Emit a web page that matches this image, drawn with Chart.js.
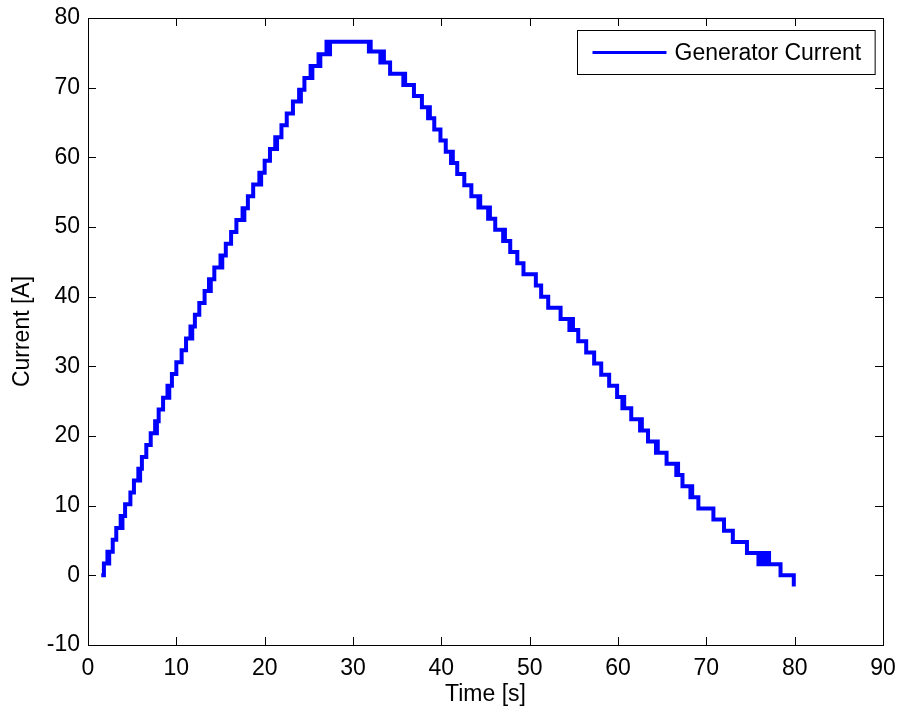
<!DOCTYPE html>
<html>
<head>
<meta charset="utf-8">
<script src="https://cdn.jsdelivr.net/npm/chart.js@4.4.0/dist/chart.umd.min.js"></script>
<style>
    html, body { margin: 0; padding: 0; background: #fff; }
</style>
</head>
<body>
<canvas id="myChart" width="898" height="713"></canvas>
<script>
// time stamps [s] where the generator current changes level
const timeS = [
    1.5, 1.8, 2.2, 2.3, 2.4, 2.8, 3.2, 3.7, 3.8, 3.9,
    4.2, 4.8, 5.2, 5.7, 5.8, 5.9, 6.1, 6.6, 7.1, 7.6,
    7.7, 7.8, 8.0, 8.5, 9.0, 9.1, 9.2, 9.5, 10.0, 10.6,
    11.1, 11.6, 11.7, 11.8, 12.1, 12.6, 13.2, 13.7, 13.8, 13.9,
    14.3, 15.0, 15.1, 15.2, 15.6, 16.2, 16.8, 17.5, 17.6, 17.7,
    18.1, 18.7, 19.4, 19.5, 19.6, 20.0, 20.6, 21.2, 21.3, 21.4,
    21.9, 22.5, 23.2, 23.9, 24.0, 24.1, 24.5, 25.2, 25.3, 25.4,
    26.1, 26.2, 26.3, 27.0, 27.1, 27.2, 27.3, 27.4,
    // top and way down
    31.8, 31.9, 32.0, 33.1, 33.2, 33.3, 33.4, 33.5, 34.2, 35.7,
    35.8, 35.9, 36.9, 37.8, 38.5, 38.6, 38.7, 39.2, 39.9, 40.5,
    41.1, 41.2, 41.3, 41.8, 42.6, 43.4, 44.2, 44.3, 44.4, 45.3,
    45.4, 45.5, 46.1, 47.0, 47.1, 47.2, 47.8, 48.6, 49.3, 50.7,
    51.3, 52.1, 53.5, 54.5, 54.6, 54.7, 54.8, 54.9, 55.5, 56.4,
    57.3, 58.1, 59.0, 59.9, 60.5, 60.6, 60.7, 61.5, 62.5, 62.6,
    62.7, 63.4, 64.3, 64.4, 64.5, 65.5, 66.6, 66.7, 66.8, 67.3,
    68.2, 68.3, 68.4, 69.1, 70.8, 72.0, 73.0, 74.6, 75.9, 76.1,
    76.3, 76.5, 76.7, 76.9, 77.1, 78.4, 79.9
];

// current level [A] starting at each time stamp
const currentA = [
    0, 1.7, 3.4, 1.7, 3.4, 5.1, 6.8, 8.5, 6.8, 8.5,
    10.2, 11.9, 13.6, 15.3, 13.6, 15.3, 17.0, 18.7, 20.4, 22.1,
    20.4, 22.1, 23.8, 25.5, 27.2, 25.5, 27.2, 28.9, 30.6, 32.3,
    34.0, 35.7, 34.0, 35.7, 37.4, 39.1, 40.8, 42.5, 40.8, 42.5,
    44.2, 45.9, 44.2, 45.9, 47.6, 49.3, 51.0, 52.7, 51.0, 52.7,
    54.4, 56.1, 57.8, 56.1, 57.8, 59.5, 61.2, 62.9, 61.2, 62.9,
    64.6, 66.3, 68.0, 69.7, 68.0, 69.7, 71.4, 73.1, 71.4, 73.1,
    74.8, 73.1, 74.8, 76.6, 74.8, 76.6, 74.8, 76.6,
    75.2, 76.6, 75.2, 73.6, 75.2, 73.6, 75.2, 73.6, 72.0, 70.4,
    72.0, 70.4, 68.8, 67.2, 65.6, 67.2, 65.6, 64.0, 62.4, 60.8,
    59.2, 60.8, 59.2, 57.6, 56.0, 54.4, 52.8, 54.4, 52.8, 51.2,
    52.8, 51.2, 49.6, 48.0, 49.6, 48.0, 46.4, 44.8, 43.2, 41.6,
    40.0, 38.4, 36.8, 35.2, 36.8, 35.2, 36.8, 35.2, 33.6, 32.0,
    30.4, 28.8, 27.2, 25.6, 24.0, 25.6, 24.0, 22.4, 20.8, 22.4,
    20.8, 19.2, 17.6, 19.2, 17.6, 16.0, 14.4, 16.0, 14.4, 12.8,
    11.2, 12.8, 11.2, 9.6, 8.0, 6.4, 4.8, 3.2, 1.6, 3.2,
    1.6, 3.2, 1.6, 3.2, 1.6, 0, -1.6
];

const xTicks = [0, 10, 20, 30, 40, 50, 60, 70, 80, 90];
const yTicks = [-10, 0, 10, 20, 30, 40, 50, 60, 70, 80];

const seriesLabel = 'Generator Current';
const lineColor = 'rgb(0, 0, 255)';

Chart.defaults.font.family = '"Liberation Sans", Arial, sans-serif';
Chart.defaults.font.size = 23;
Chart.defaults.color = '#000';

const points = timeS.map((t, i) => ({ x: t, y: currentA[i] }));

// matlab style box with inward ticks on all four sides
const boxPlugin = {
    id: 'matlabBox',
    afterDatasetsDraw(chart) {
        const { ctx, chartArea: a, scales } = chart;
        const len = 8;
        ctx.save();
        ctx.strokeStyle = '#000';
        ctx.lineWidth = 1;
        ctx.beginPath();
        xTicks.forEach(v => {
            const px = Math.round(scales.x.getPixelForValue(v)) + 0.5;
            ctx.moveTo(px, a.bottom);
            ctx.lineTo(px, a.bottom - len);
            ctx.moveTo(px, a.top);
            ctx.lineTo(px, a.top + len);
        });
        yTicks.forEach(v => {
            const py = Math.round(scales.y.getPixelForValue(v)) + 0.5;
            ctx.moveTo(a.left, py);
            ctx.lineTo(a.left + len, py);
            ctx.moveTo(a.right, py);
            ctx.lineTo(a.right - len, py);
        });
        ctx.stroke();
        ctx.strokeRect(Math.round(a.left) + 0.5, Math.round(a.top) + 0.5,
            Math.round(a.right - a.left), Math.round(a.bottom - a.top));

        // legend box, top right inside the axes
        ctx.font = '23px "Liberation Sans", Arial, sans-serif';
        const textW = ctx.measureText(seriesLabel).width;
        const boxW = 15 + 74 + 8 + textW + 14;
        const boxH = 44;
        const bx = Math.round(a.right - 8 - boxW) + 0.5;
        const by = Math.round(a.top + 12) + 0.5;
        ctx.fillStyle = '#fff';
        ctx.fillRect(bx, by, boxW, boxH);
        ctx.strokeRect(bx, by, boxW, boxH);
        ctx.strokeStyle = lineColor;
        ctx.lineWidth = 3;
        ctx.beginPath();
        ctx.moveTo(bx + 15, by + 22);
        ctx.lineTo(bx + 89, by + 22);
        ctx.stroke();
        ctx.fillStyle = '#000';
        ctx.textBaseline = 'middle';
        ctx.textAlign = 'left';
        ctx.fillText(seriesLabel, bx + 97, by + 23);
        ctx.restore();
    }
};

const ctx = document.getElementById('myChart').getContext('2d');
const chart = new Chart(ctx, {
    type: 'line',
    data: {
        datasets: [{
            label: seriesLabel,
            data: points,
            borderColor: lineColor,
            backgroundColor: lineColor,
            borderWidth: 4,
            stepped: 'before',
            pointRadius: 0,
            fill: false
        }]
    },
    options: {
        responsive: false,
        animation: false,
        layout: {
            padding: { top: 18, right: 15, left: 0, bottom: 0 }
        },
        plugins: {
            legend: { display: false },
            tooltip: { enabled: false }
        },
        scales: {
            x: {
                type: 'linear',
                min: 0,
                max: 90,
                afterFit(scale) {
                    scale.height = 68;
                    scale.paddingLeft = 0;
                    scale.paddingRight = 0;
                },
                afterBuildTicks(scale) { scale.ticks = xTicks.map(v => ({ value: v })); },
                grid: { display: false, drawTicks: false },
                border: { display: false },
                ticks: { padding: 10, maxRotation: 0 },
                title: { display: true, text: 'Time [s]', padding: { top: 0, bottom: 5 } }
            },
            y: {
                type: 'linear',
                min: -10,
                max: 80,
                afterFit(scale) {
                    scale.width = 88;
                    scale.paddingTop = 0;
                    scale.paddingBottom = 0;
                },
                afterBuildTicks(scale) { scale.ticks = yTicks.map(v => ({ value: v })); },
                grid: { display: false, drawTicks: false },
                border: { display: false },
                ticks: { padding: 8 },
                title: { display: true, text: 'Current [A]', padding: { top: 9, bottom: 0 } }
            }
        }
    },
    plugins: [boxPlugin]
});
</script>
</body>
</html>
